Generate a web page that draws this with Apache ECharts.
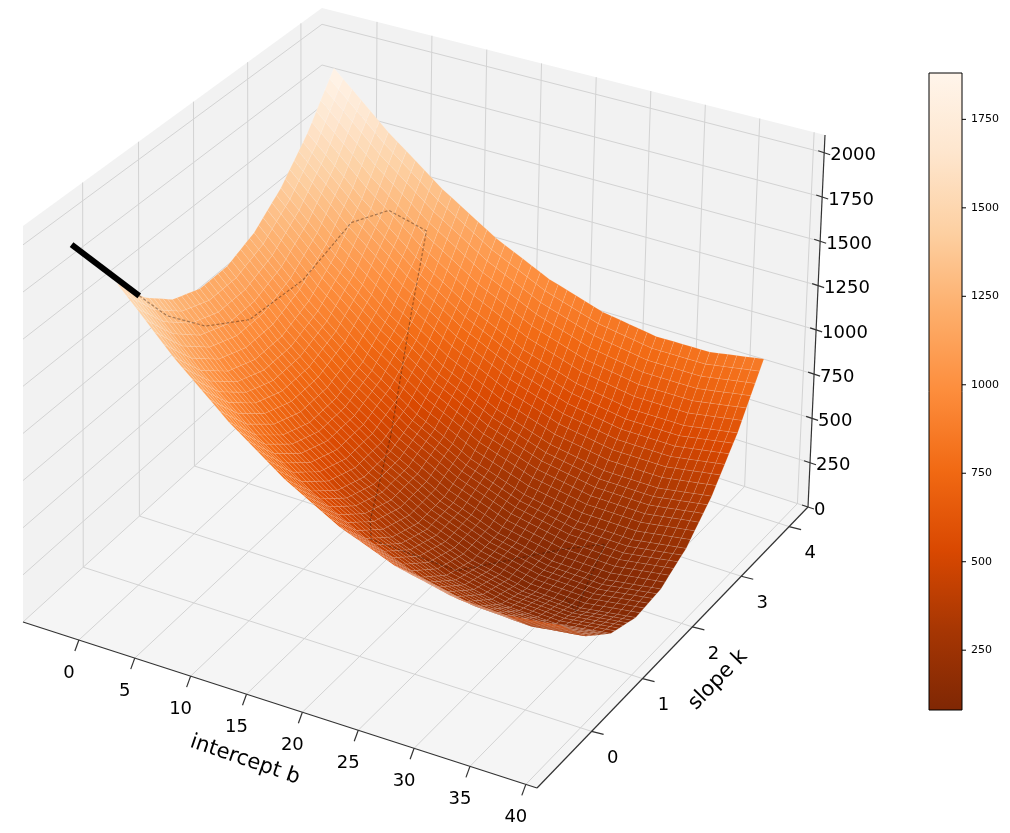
<!DOCTYPE html>
<html><head><meta charset="utf-8">
<script src="https://cdn.jsdelivr.net/npm/echarts@6/dist/echarts.min.js"></script>
<style>html,body{margin:0;padding:0;background:#fff}#c{width:1010px;height:833px}</style>
</head><body><div id="c"></div>
<script>
// ---- data ----
const bVals = [-2, 3, 8, 13, 18, 23, 28, 33, 38];          // intercept b
const kVals = [0, 0.5, 1, 1.5, 2, 2.5, 3, 3.5, 4];         // slope k
const zK0   = [1600, 1285, 1020, 805, 640, 525, 460, 445, 480];
const zK05  = [1401, 1088, 825, 612, 449, 335, 272, 259, 296];
const zK1   = [1268, 957, 696, 485, 324, 212, 151, 140, 179];
const zK15  = [1203, 894, 634, 425, 266, 157, 98, 88, 129];
const zK2   = [1205, 897, 640, 433, 275, 168, 111, 103, 146];
const zK25  = [1273, 968, 712, 507, 351, 246, 191, 185, 230];
const zK3   = [1409, 1105, 852, 649, 495, 391, 338, 334, 381];
const zK35  = [1611, 1310, 1058, 857, 705, 603, 552, 550, 599];
const zK4   = [1881, 1581, 1332, 1132, 982, 883, 833, 834, 884];
const zRows = [zK0, zK05, zK1, zK15, zK2, zK25, zK3, zK35, zK4];
// gradient-descent path
const pathB = [-3.5, -1, -0.5, 0, 1, 2, 3, 5, 8, 10, 13, 16, 18, 23, 28, 31, 32, 33, 31];
const pathK = [-0.5, 0.2, 0.6, 1.2, 1.8, 2.6, 3.3, 3.6, 3.7, 3.0, 2.0, 1.0, 0.6, 1.2, 2.2, 2.4, 1.8, 1.4, 1.6];
const pathZ = [1900, 1500, 1302, 1104, 1005, 1047, 1220, 1252, 1160, 900, 520, 380, 418, 182, 120, 150, 95, 100, 82];
const bTicks = [0, 5, 10, 15, 20, 25, 30, 35, 40];
const kTicks = [0, 1, 2, 3, 4];
const zTicks = [0, 250, 500, 750, 1000, 1250, 1500, 1750, 2000];
const cbTicks = [250, 500, 750, 1000, 1250, 1500, 1750];
const cbMin = 81, cbMax = 1881;
const oranges = ['#7f2704', '#a63603', '#d94801', '#f16913', '#fd8d3c', '#fdae6b', '#fdd0a2', '#fee6ce', '#fff5eb'];

// ---- projection ----
const B0 = -5, B1 = 41, K0 = -1.05, K1 = 4.4, Z0 = 0, Z1 = 2100;
function homog(p0, p1, p2, p3) {
  const dx1 = p1[0] - p2[0], dx2 = p3[0] - p2[0], dx3 = p0[0] - p1[0] + p2[0] - p3[0];
  const dy1 = p1[1] - p2[1], dy2 = p3[1] - p2[1], dy3 = p0[1] - p1[1] + p2[1] - p3[1];
  const den = dx1 * dy2 - dx2 * dy1;
  const g = (dx3 * dy2 - dx2 * dy3) / den, h = (dx1 * dy3 - dx3 * dy1) / den;
  const a = p1[0] - p0[0] + g * p1[0], b = p3[0] - p0[0] + h * p3[0], c = p0[0];
  const d = p1[1] - p0[1] + g * p1[1], e = p3[1] - p0[1] + h * p3[1], f = p0[1];
  return (u, v) => { const w = g * u + h * v + 1; return [(a * u + b * v + c) / w, (d * u + e * v + f) / w]; };
}
const Hf = homog([23, 622], [537, 788], [808, 507], [322, 350]);
const Ht = homog([23, 226], [550, 357], [825, 135], [322, 8]);
function P(b, k, z) {
  const u = (b - B0) / (B1 - B0), v = (k - K0) / (K1 - K0), w = (z - Z0) / (Z1 - Z0);
  const f = Hf(u, v), t = Ht(u, v);
  return [f[0] + (t[0] - f[0]) * w, f[1] + (t[1] - f[1]) * w];
}

// ---- surface cells ----
const S = 6, polys = [], items = [];
function zAt(i, j, s, t) {
  const a = zRows[j][i], b = zRows[j][i + 1], c = zRows[j + 1][i + 1], d = zRows[j + 1][i];
  return a * (1 - s) * (1 - t) + b * s * (1 - t) + c * s * t + d * (1 - s) * t;
}
for (let j = 0; j < kVals.length - 1; j++) for (let i = 0; i < bVals.length - 1; i++) {
  for (let q = 0; q < S; q++) for (let p = 0; p < S; p++) {
    const s0 = p / S, s1 = (p + 1) / S, t0 = q / S, t1 = (q + 1) / S;
    const bb = s => bVals[i] + (bVals[i + 1] - bVals[i]) * s;
    const kk = t => kVals[j] + (kVals[j + 1] - kVals[j]) * t;
    const pts = [[bb(s0), kk(t0), zAt(i, j, s0, t0)], [bb(s1), kk(t0), zAt(i, j, s1, t0)],
                 [bb(s1), kk(t1), zAt(i, j, s1, t1)], [bb(s0), kk(t1), zAt(i, j, s0, t1)]];
    const zc = (pts[0][2] + pts[1][2] + pts[2][2] + pts[3][2]) / 4;
    const bc = (pts[0][0] + pts[2][0]) / 2, kc = (pts[0][1] + pts[2][1]) / 2;
    const key = 0.5 * (bc - B0) / (B1 - B0) - 0.87 * (kc - K0) / (K1 - K0) + 0.3 * zc / Z1;
    items.push({ key, pts, zc });
  }
}
items.sort((a, b) => a.key - b.key);
const cellData = items.map((it, n) => { polys.push(it.pts); return [n, it.zc]; });

// ---- box / axes graphics ----
const G = [];
const grid = '#d3d3d3', pane = '#f2f2f2';
function poly(pts, fill, z) { G.push({ type: 'polygon', z: z, silent: true, shape: { points: pts }, style: { fill: fill, stroke: null } }); }
function line(p, q, col, w, z) { G.push({ type: 'line', z: z, silent: true, shape: { x1: p[0], y1: p[1], x2: q[0], y2: q[1] }, style: { stroke: col, lineWidth: w } }); }
function txt(p, s, fs, align, vAlign, rot, z) {
  G.push({ type: 'text', z: z || 5, x: p[0], y: p[1], rotation: rot || 0, silent: true,
    style: { text: s, font: fs + 'px "DejaVu Sans"', fill: '#000', align: align, verticalAlign: vAlign } });
}
poly([P(B0, K0, Z0), P(B0, K1, Z0), P(B0, K1, Z1), P(B0, K0, Z1)], pane, 0);
poly([P(B0, K1, Z0), P(B1, K1, Z0), P(B1, K1, Z1), P(B0, K1, Z1)], pane, 0);
poly([P(B0, K0, Z0), P(B1, K0, Z0), P(B1, K1, Z0), P(B0, K1, Z0)], '#f5f5f5', 0);
bTicks.forEach(b => { line(P(b, K0, 0), P(b, K1, 0), grid, 1, 1); line(P(b, K1, 0), P(b, K1, Z1), grid, 1, 1); });
kTicks.forEach(k => { line(P(B0, k, 0), P(B1, k, 0), grid, 1, 1); line(P(B0, k, 0), P(B0, k, Z1), grid, 1, 1); });
zTicks.forEach(z => { line(P(B0, K0, z), P(B0, K1, z), grid, 1, 1); line(P(B0, K1, z), P(B1, K1, z), grid, 1, 1); });
line(P(B0, K0, 0), P(B1, K0, 0), '#333', 1.2, 3);
line(P(B1, K0, 0), P(B1, K1, 0), '#333', 1.2, 3);
line(P(B1, K1, 0), P(B1, K1, Z1), '#333', 1.2, 3);
bTicks.forEach(b => { const a = P(b, K0, 0); line(a, [a[0] - 4, a[1] + 11], '#333', 1.2, 3); txt([a[0] - 10, a[1] + 33], String(b), 18, 'center', 'middle'); });
kTicks.forEach(k => { const a = P(B1, k, 0); line(a, [a[0] + 12, a[1] + 3], '#333', 1.2, 3); txt([a[0] + 21, a[1] + 27], String(k), 18, 'center', 'middle'); });
zTicks.forEach(z => { const a = P(B1, K1, z); line([a[0] - 6, a[1] - 2], [a[0] + 6, a[1] + 2], '#333', 1.2, 3); txt([a[0] + 6, a[1] + 3], String(z), 18, 'left', 'middle'); });
txt([245, 760], 'intercept b', 21, 'center', 'middle', -0.33);
txt([718, 680], 'slope k', 21, 'center', 'middle', 0.80);
const pathPts = pathB.map((b, n) => P(b, pathK[n], pathZ[n]));
G.push({ type: 'polyline', z: 20, silent: true, shape: { points: pathPts.slice(1) }, style: { stroke: 'rgba(40,20,10,0.4)', lineWidth: 1.2, lineDash: [3, 2], fill: null } });
G.push({ type: 'polyline', z: 21, silent: true, shape: { points: [pathPts[0], pathPts[1]] }, style: { stroke: '#000', lineWidth: 6, fill: null } });
const cbX = 929, cbY = 73, cbW = 33, cbH = 637;
G.push({ type: 'rect', z: 5, silent: true, shape: { x: cbX, y: cbY, width: cbW, height: cbH },
  style: { fill: new echarts.graphic.LinearGradient(0, 1, 0, 0, oranges.map((c, n) => ({ offset: n / (oranges.length - 1), color: c }))), stroke: '#000', lineWidth: 1 } });
cbTicks.forEach(v => { const y = cbY + cbH - (v - cbMin) / (cbMax - cbMin) * cbH; line([cbX + cbW, y], [cbX + cbW + 4, y], '#000', 1, 6); txt([cbX + cbW + 9, y], String(v), 11, 'left', 'middle', 0, 6); });

const chart = echarts.init(document.getElementById('c'));
chart.setOption({
  animation: false,
  backgroundColor: '#fff',
  visualMap: { show: false, type: 'continuous', min: cbMin, max: cbMax, dimension: 1, seriesIndex: 0, inRange: { color: oranges } },
  graphic: { elements: G },
  series: [{
    type: 'custom', coordinateSystem: 'none', z: 10, data: cellData,
    renderItem: function (params, api) {
      const pts = polys[params.dataIndex].map(p => P(p[0], p[1], p[2]));
      return { type: 'polygon', shape: { points: pts },
        style: { fill: api.visual('color'), stroke: 'rgba(255,255,255,0.2)', lineWidth: 0.5 } };
    }
  }]
});
</script></body></html>
